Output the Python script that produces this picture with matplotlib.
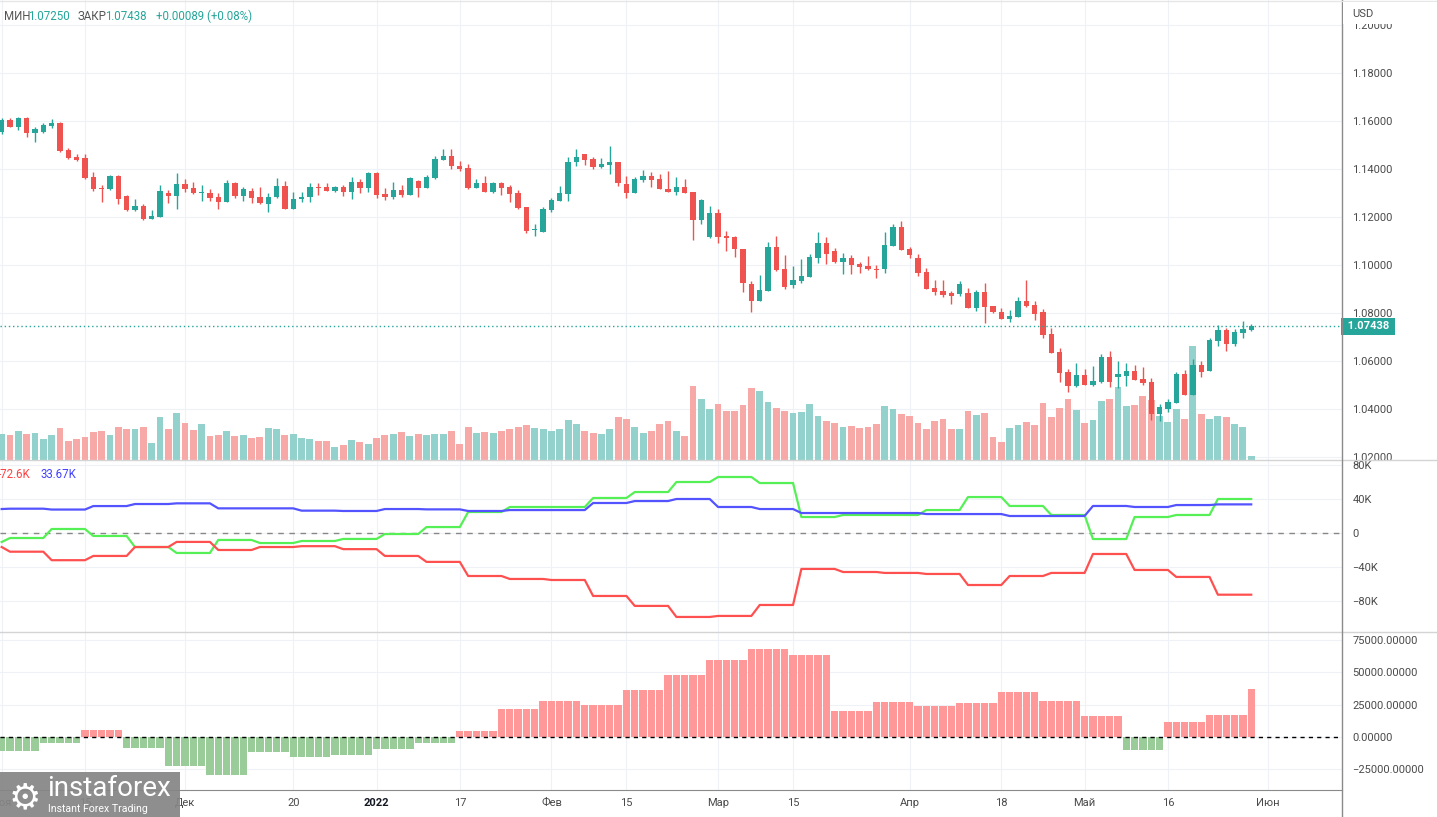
import matplotlib.pyplot as plt
import numpy as np
from matplotlib.lines import Line2D
from matplotlib.patches import Rectangle
from matplotlib.transforms import blended_transform_factory

plt.rcParams['font.family'] = ['Roboto', 'DejaVu Sans']

# EUR/USD, daily candles 1 Nov 2021 .. 30 May 2022
opens = [
    1.1554, 1.1604, 1.1575, 1.1612, 1.1550, 1.1554, 1.1579, 1.1591, 1.1479, 1.1450,
    1.1446, 1.1367, 1.1321, 1.1317, 1.1371, 1.1287, 1.1229, 1.1246, 1.1192, 1.1200,
    1.1300, 1.1287, 1.1337, 1.1321, 1.1300, 1.1300, 1.1283, 1.1262, 1.1342, 1.1287,
    1.1308, 1.1283, 1.1254, 1.1283, 1.1329, 1.1233, 1.1275, 1.1283, 1.1325, 1.1325,
    1.1308, 1.1325, 1.1304, 1.1346, 1.1321, 1.1383, 1.1296, 1.1283, 1.1312, 1.1292,
    1.1350, 1.1321, 1.1362, 1.1437, 1.1454, 1.1412, 1.1404, 1.1321, 1.1342, 1.1304,
    1.1342, 1.1325, 1.1300, 1.1242, 1.1146, 1.1137, 1.1229, 1.1267, 1.1296, 1.1429,
    1.1462, 1.1442, 1.1408, 1.1417, 1.1429, 1.1337, 1.1300, 1.1354, 1.1371, 1.1358,
    1.1317, 1.1304, 1.1325, 1.1304, 1.1187, 1.1117, 1.1217, 1.1121, 1.1117, 1.1067,
    1.0921, 1.0850, 1.0892, 1.1075, 1.0983, 1.0917, 1.0933, 1.0950, 1.1029, 1.1092,
    1.1058, 1.1012, 1.1029, 1.1004, 1.0996, 1.0983, 1.0983, 1.1079, 1.1158, 1.1067,
    1.1029, 1.0971, 1.0904, 1.0892, 1.0883, 1.0879, 1.0883, 1.0821, 1.0888, 1.0829,
    1.0804, 1.0775, 1.0783, 1.0850, 1.0833, 1.0804, 1.0712, 1.0637, 1.0554, 1.0496,
    1.0542, 1.0500, 1.0513, 1.0617, 1.0533, 1.0537, 1.0558, 1.0525, 1.0513, 1.0379,
    1.0400, 1.0425, 1.0546, 1.0458, 1.0583, 1.0558, 1.0683, 1.0729, 1.0671, 1.0717,
    1.0729,
]
highs = [
    1.1612, 1.1612, 1.1617, 1.1617, 1.1575, 1.1591, 1.1608, 1.1595, 1.1487, 1.1462,
    1.1462, 1.1387, 1.1333, 1.1375, 1.1375, 1.1292, 1.1275, 1.1254, 1.1229, 1.1333,
    1.1312, 1.1383, 1.1358, 1.1346, 1.1333, 1.1317, 1.1300, 1.1354, 1.1346, 1.1325,
    1.1321, 1.1325, 1.1300, 1.1362, 1.1350, 1.1304, 1.1304, 1.1342, 1.1342, 1.1342,
    1.1329, 1.1333, 1.1367, 1.1358, 1.1387, 1.1387, 1.1321, 1.1346, 1.1333, 1.1367,
    1.1354, 1.1375, 1.1454, 1.1483, 1.1483, 1.1433, 1.1421, 1.1358, 1.1371, 1.1346,
    1.1346, 1.1333, 1.1312, 1.1242, 1.1171, 1.1242, 1.1279, 1.1329, 1.1450, 1.1483,
    1.1462, 1.1450, 1.1446, 1.1496, 1.1429, 1.1371, 1.1367, 1.1396, 1.1387, 1.1379,
    1.1392, 1.1367, 1.1358, 1.1304, 1.1275, 1.1246, 1.1233, 1.1142, 1.1121, 1.1067,
    1.0933, 1.0958, 1.1096, 1.1121, 1.1042, 1.0996, 1.1025, 1.1046, 1.1138, 1.1117,
    1.1071, 1.1050, 1.1042, 1.1012, 1.1037, 1.1000, 1.1138, 1.1171, 1.1183, 1.1075,
    1.1046, 1.0988, 1.0937, 1.0937, 1.0892, 1.0933, 1.0904, 1.0896, 1.0925, 1.0829,
    1.0821, 1.0812, 1.0867, 1.0937, 1.0850, 1.0817, 1.0737, 1.0654, 1.0567, 1.0592,
    1.0567, 1.0579, 1.0629, 1.0642, 1.0600, 1.0592, 1.0583, 1.0575, 1.0529, 1.0421,
    1.0442, 1.0554, 1.0562, 1.0608, 1.0600, 1.0696, 1.0750, 1.0737, 1.0733, 1.0767,
    1.0754,
]
lows = [
    1.1546, 1.1575, 1.1562, 1.1533, 1.1512, 1.1550, 1.1571, 1.1471, 1.1442, 1.1433,
    1.1358, 1.1308, 1.1262, 1.1312, 1.1254, 1.1225, 1.1225, 1.1187, 1.1192, 1.1200,
    1.1258, 1.1233, 1.1304, 1.1296, 1.1267, 1.1267, 1.1233, 1.1262, 1.1279, 1.1267,
    1.1258, 1.1254, 1.1221, 1.1279, 1.1233, 1.1233, 1.1262, 1.1262, 1.1292, 1.1308,
    1.1304, 1.1287, 1.1275, 1.1300, 1.1304, 1.1279, 1.1271, 1.1275, 1.1283, 1.1292,
    1.1283, 1.1321, 1.1358, 1.1437, 1.1400, 1.1392, 1.1317, 1.1321, 1.1304, 1.1300,
    1.1292, 1.1262, 1.1233, 1.1133, 1.1121, 1.1137, 1.1221, 1.1267, 1.1267, 1.1412,
    1.1417, 1.1400, 1.1404, 1.1379, 1.1329, 1.1279, 1.1300, 1.1346, 1.1325, 1.1317,
    1.1304, 1.1292, 1.1300, 1.1104, 1.1171, 1.1112, 1.1092, 1.1058, 1.1033, 1.0888,
    1.0804, 1.0850, 1.0892, 1.0975, 1.0900, 1.0904, 1.0925, 1.0950, 1.1008, 1.1004,
    1.1008, 1.0963, 1.0963, 1.0967, 1.0979, 1.0946, 1.0967, 1.1079, 1.1062, 1.1029,
    1.0954, 1.0900, 1.0875, 1.0867, 1.0837, 1.0871, 1.0821, 1.0808, 1.0758, 1.0800,
    1.0775, 1.0762, 1.0783, 1.0825, 1.0771, 1.0696, 1.0633, 1.0513, 1.0471, 1.0492,
    1.0500, 1.0496, 1.0508, 1.0492, 1.0488, 1.0496, 1.0521, 1.0500, 1.0354, 1.0350,
    1.0387, 1.0425, 1.0458, 1.0458, 1.0533, 1.0558, 1.0662, 1.0642, 1.0662, 1.0696,
    1.0725,
]
closes = [
    1.1604, 1.1575, 1.1612, 1.1550, 1.1566, 1.1583, 1.1591, 1.1475, 1.1446, 1.1437,
    1.1362, 1.1317, 1.1317, 1.1371, 1.1275, 1.1229, 1.1246, 1.1192, 1.1204, 1.1308,
    1.1287, 1.1337, 1.1317, 1.1300, 1.1304, 1.1279, 1.1262, 1.1342, 1.1287, 1.1317,
    1.1279, 1.1258, 1.1283, 1.1329, 1.1233, 1.1275, 1.1283, 1.1325, 1.1321, 1.1308,
    1.1325, 1.1304, 1.1346, 1.1321, 1.1383, 1.1292, 1.1283, 1.1312, 1.1292, 1.1362,
    1.1321, 1.1367, 1.1442, 1.1454, 1.1412, 1.1400, 1.1321, 1.1342, 1.1304, 1.1342,
    1.1321, 1.1296, 1.1237, 1.1142, 1.1150, 1.1233, 1.1271, 1.1300, 1.1429, 1.1450,
    1.1437, 1.1408, 1.1421, 1.1429, 1.1342, 1.1300, 1.1358, 1.1371, 1.1354, 1.1317,
    1.1304, 1.1325, 1.1300, 1.1187, 1.1271, 1.1217, 1.1117, 1.1112, 1.1067, 1.0925,
    1.0850, 1.0896, 1.1075, 1.0979, 1.0908, 1.0937, 1.0954, 1.1033, 1.1092, 1.1046,
    1.1012, 1.1029, 1.1000, 1.0992, 1.0983, 1.0979, 1.1083, 1.1158, 1.1062, 1.1042,
    1.0967, 1.0900, 1.0888, 1.0875, 1.0871, 1.0921, 1.0821, 1.0888, 1.0825, 1.0804,
    1.0775, 1.0787, 1.0850, 1.0829, 1.0796, 1.0708, 1.0633, 1.0550, 1.0496, 1.0542,
    1.0500, 1.0517, 1.0617, 1.0513, 1.0546, 1.0558, 1.0521, 1.0508, 1.0379, 1.0408,
    1.0429, 1.0546, 1.0458, 1.0583, 1.0554, 1.0687, 1.0729, 1.0671, 1.0721, 1.0733,
    1.07438,
]
# tick volume (thousands)
volume = [
    26, 25, 29, 26, 27, 21, 25, 32, 19, 21,
    23, 28, 29, 25, 33, 31, 31, 33, 17, 43,
    31, 47, 37, 30, 36, 24, 25, 29, 24, 25,
    22, 23, 32, 31, 25, 26, 22, 21, 19, 19,
    13, 15, 20, 18, 16, 22, 25, 26, 28, 24,
    26, 25, 26, 26, 29, 16, 33, 27, 28, 27,
    29, 31, 33, 35, 32, 31, 29, 31, 40, 36,
    29, 27, 26, 31, 43, 41, 33, 27, 29, 36,
    39, 29, 24, 74, 61, 51, 56, 49, 49, 55,
    72, 69, 58, 52, 49, 47, 48, 56, 44, 39,
    37, 33, 34, 32, 33, 36, 54, 51, 46, 44,
    37, 31, 39, 41, 31, 31, 49, 45, 47, 23,
    18, 32, 35, 38, 35, 57, 43, 52, 61, 50,
    37, 40, 59, 61, 73, 54, 55, 64, 60, 44,
    38, 51, 41, 114, 46, 41, 44, 43, 36, 33,
    4,
]

# COT positions, thousands of contracts (first value, then one per weekly report)
cot_red = [-16.5, -22, -32, -27, -16.5, -10.5, -20, -16.5, -15.5, -19, -27,
           -34, -50.6, -54.1, -55.3, -74.1, -85.8, -98.8, -97.6, -84.7, -42.3,
           -45.9, -47.0, -48.2, -61.2, -50.6, -47.0, -24.7, -43.5, -51.7, -72.6]
cot_green = [-10.6, -5.9, 4.7, -3.5, -16.5, -23.5, -8.2, -11.8, -9.4, -7.0, -1.2,
             7.0, 24.7, 30.6, 30.6, 41.2, 48.2, 60.0, 65.9, 58.8, 18.8,
             21.2, 21.2, 27.0, 42.3, 31.8, 21.2, -7.1, 18.8, 21.2, 40.0]
cot_blue = [28.2, 28.6, 27.6, 31.7, 34.1, 34.9, 29.0, 29.0, 26.3, 25.9, 28.2,
            27.8, 25.9, 27.0, 27.0, 35.3, 37.6, 40.0, 30.6, 28.2, 23.5,
            23.5, 23.5, 22.3, 22.3, 20.0, 20.0, 31.8, 30.6, 32.9, 33.67]
# weekly histogram (thousands)
net_hist = [-11.1, -5.2, 5.6, -9.0, -22.7, -29.7, -11.9, -15.8, -14.5, -9.8, -5.2,
            4.1, 21.7, 27.9, 24.8, 36.4, 48.0, 59.6, 68.1, 63.5, 20.1,
            27.1, 24.0, 26.3, 34.8, 27.9, 16.3, -10.1, 11.6, 17.0, 37.2]

date_pos = [0, 10, 22, 35, 45, 55, 66, 75, 86, 95, 109, 120, 130, 140, 152]
date_lbl = ['Ноя', '15', 'Дек', '20', '2022', '17', 'Фев', '15', 'Мар', '15',
            'Апр', '18', 'Май', '16', 'Июн']

UP, DOWN = '#26a69a', '#ef5350'
GRID = '#eef1f6'
TXT = '#4a4a4a'

W, H = 1437, 817
fig = plt.figure(figsize=(W / 100, H / 100), dpi=100)
plot_w = 1342 / W


def pane(top, bottom):
    return fig.add_axes([0, 1 - bottom / H, plot_w, (bottom - top) / H])


ax1 = pane(0, 460)
ax2 = pane(460, 632)
ax3 = pane(632, 790)

x = np.arange(len(opens))
o, hi, lo, c = map(np.array, (opens, highs, lows, closes))
up = c >= o
col = np.where(up, UP, DOWN).tolist()
vcol = np.where(up, '#93d2cc', '#f7a9a8').tolist()

# volume overlay, scaled to the pane height
ax1.bar(x, np.array(volume) / 460, width=0.82, bottom=0, color=vcol,
        transform=ax1.get_xaxis_transform(), zorder=1)
ax1.vlines(x, lo, hi, colors=col, lw=1, zorder=2)
ax1.bar(x, np.maximum(np.abs(c - o), 0.00012), bottom=np.minimum(o, c),
        width=0.64, color=col, zorder=3)
ax1.axhline(closes[-1], color=UP, lw=1, ls=(0, (1, 2)), zorder=4)
ax1.set_ylim(1.01875, 1.2104)
ax1.set_yticks(np.arange(1.02, 1.201, 0.02))
ax1.set_yticklabels([f'{v:.5f}' for v in np.arange(1.02, 1.201, 0.02)])
tr = blended_transform_factory(ax1.transAxes, ax1.transData)
ax1.text(1.002, closes[-1], f' {closes[-1]:.5f} ', transform=tr, ha='left', va='center',
         color='white', fontsize=8, fontweight='bold', zorder=10,
         bbox=dict(boxstyle='square,pad=0.3', fc=UP, ec='none'), clip_on=False)


# COT lines: each report holds until the next one
def daily(weekly):
    wk = np.where(x == 0, 0, (x - 1) // 5 + 1)
    return np.array(weekly)[wk]


ax2.plot(x, daily(cot_green), color='#55f055', lw=1.6, zorder=3)
ax2.plot(x, daily(cot_red), color='#ff5050', lw=1.6, zorder=3)
ax2.plot(x, daily(cot_blue), color='#5353ff', lw=1.6, zorder=3)
ax2.axhline(0, color='#888888', lw=1, ls=(0, (4, 4)), zorder=2)
ax2.set_ylim(-116.5, 85.9)
k_ticks = [-80, -40, 0, 40, 80]
ax2.set_yticks(k_ticks)
ax2.set_yticklabels([('0' if v == 0 else f'{v}K').replace('-', '−') for v in k_ticks])
ax2.text(-0.002, 0.915, f'{cot_red[-1]}K', transform=ax2.transAxes, color='#ff4040',
         fontsize=8.3, ha='left', va='center')
ax2.text(0.0305, 0.915, f'{cot_blue[-1]}K', transform=ax2.transAxes, color='#4040ff',
         fontsize=8.3, ha='left', va='center')

# histogram, one value per week
hv = np.array(net_hist)[x // 5] * 1000
ax3.bar(x, hv, width=0.88, color=np.where(hv >= 0, '#ff9999', '#99cc99').tolist(), zorder=2)
ax3.axhline(0, color='black', lw=1, ls=(0, (3, 3)), zorder=3)
ax3.set_ylim(-41250, 81200)
h_ticks = [-25000, 0, 25000, 50000, 75000]
ax3.set_yticks(h_ticks)
ax3.set_yticklabels([f'{v:.5f}'.replace('-', '−') for v in h_ticks])

for ax in (ax1, ax2, ax3):
    ax.set_xlim(-0.2, 160.9)
    ax.set_xticks(date_pos)
    ax.grid(True, color=GRID, lw=0.8)
    ax.set_axisbelow(True)
    ax.tick_params(axis='y', left=False, labelleft=False, right=False, labelright=True,
                   length=0, pad=7.5, labelsize=8, labelcolor=TXT)
    ax.tick_params(axis='x', length=0, labelbottom=False)
    for s in ax.spines.values():
        s.set_visible(False)

ax3.tick_params(axis='x', labelbottom=True, pad=6, labelsize=8, labelcolor=TXT)
ax3.set_xticklabels(date_lbl)
for t in ax3.get_xticklabels():
    if t.get_text() == '2022':
        t.set_fontweight('bold')
        t.set_color('#131722')
ax3.spines['bottom'].set_visible(True)
ax3.spines['bottom'].set_color('#8a8a8a')

# pane separators and price-scale border
for yy in (460, 632):
    fig.add_artist(Line2D([0, 1], [1 - yy / H] * 2, color='#d4d4d4', lw=1))
fig.add_artist(Line2D([plot_w] * 2, [0, 1], color='#8a8a8a', lw=1))
fig.add_artist(Line2D([0, 1], [1 - 1 / H] * 2, color='#e6e6e6', lw=1))

# top of price scale, the top label sits partly under the currency caption
fig.add_artist(Rectangle((plot_w + 0.0007, 1 - 24 / H), 1, 22 / H, fc='white', ec='none', zorder=5))
fig.text(1352 / W, 1 - 14 / H, 'USD', fontsize=8, color=TXT, va='center', zorder=6)

# header
hy = 1 - 16 / H
fig.text(4 / W, hy, 'МИН', fontsize=8.3, color='#555555', va='center')
fig.text(28 / W, hy, '1.07250', fontsize=8.3, color=UP, va='center')
fig.text(78 / W, hy, 'ЗАКР', fontsize=8.3, color='#555555', va='center')
fig.text(105 / W, hy, f'{closes[-1]:.5f}', fontsize=8.3, color=UP, va='center')
fig.text(156 / W, hy, '+0.00089 (+0.08%)', fontsize=8.3, color=UP, va='center')

# watermark
fig.add_artist(Rectangle((0, 0), 180 / W, 45 / H, fc='#858585', ec='none', alpha=0.92, zorder=10))
fig.text(25 / W, 19 / H, '⚙', family='DejaVu Sans', fontsize=26, color='white',
         ha='center', va='center', zorder=11)
fig.text(47 / W, 28 / H, 'instaforex', fontsize=20, color='white', va='center', zorder=11)
fig.text(48 / W, 8 / H, 'Instant Forex Trading', fontsize=7.6, color='white', va='center', zorder=11)

fig.savefig('out.png', dpi=100)
